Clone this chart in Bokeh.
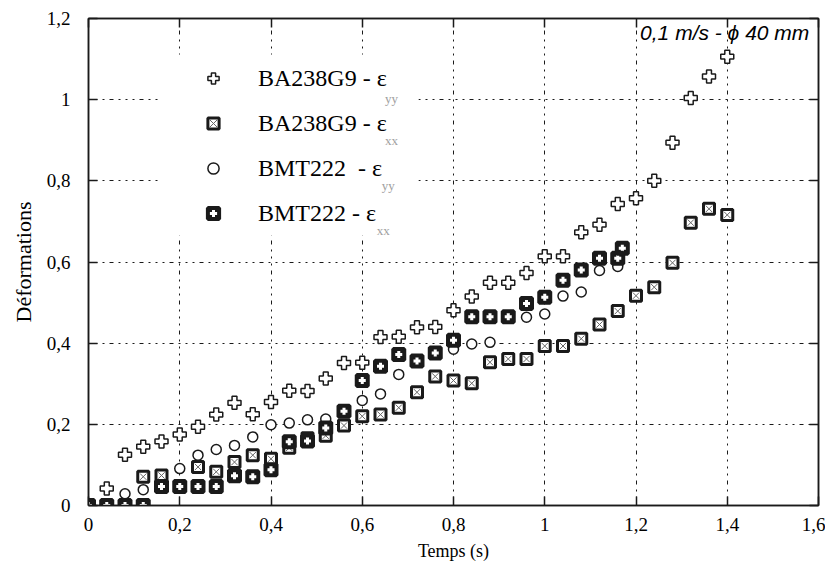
from bokeh.plotting import figure
from bokeh.models import FixedTicker, LinearAxis, Legend, LegendItem, Label, Range1d, BoxAnnotation
from bokeh.embed import file_html
from bokeh.resources import INLINE

# ---------------- data ----------------
# BA238G9 - eps_yy
t_ba_yy = [0.04, 0.08, 0.12, 0.16, 0.20, 0.24, 0.28, 0.32, 0.36, 0.40, 0.44, 0.48,
           0.52, 0.56, 0.60, 0.64, 0.68, 0.72, 0.76, 0.80, 0.84, 0.88, 0.92, 0.96,
           1.00, 1.04, 1.08, 1.12, 1.16, 1.20, 1.24, 1.28, 1.32, 1.36, 1.40]
v_ba_yy = [0.042, 0.125, 0.145, 0.158, 0.175, 0.194, 0.224, 0.253, 0.225, 0.255, 0.283, 0.282,
           0.313, 0.351, 0.352, 0.415, 0.416, 0.439, 0.440, 0.481, 0.515, 0.549, 0.549, 0.573,
           0.614, 0.614, 0.673, 0.692, 0.743, 0.757, 0.800, 0.894, 1.004, 1.057, 1.106]

# BA238G9 - eps_xx
t_ba_xx = [0.00, 0.04, 0.08, 0.12, 0.16, 0.24, 0.28, 0.32, 0.36, 0.40, 0.44, 0.48,
           0.52, 0.56, 0.60, 0.64, 0.68, 0.72, 0.76, 0.80, 0.84, 0.88, 0.92, 0.96,
           1.00, 1.04, 1.08, 1.12, 1.16, 1.20, 1.24, 1.28, 1.32, 1.36, 1.40]
v_ba_xx = [0.000, 0.000, 0.000, 0.071, 0.074, 0.095, 0.083, 0.107, 0.124, 0.115, 0.142, 0.166,
           0.172, 0.197, 0.220, 0.224, 0.241, 0.279, 0.318, 0.308, 0.301, 0.353, 0.361, 0.361,
           0.393, 0.393, 0.411, 0.446, 0.479, 0.517, 0.538, 0.598, 0.697, 0.731, 0.716]

# BMT222 - eps_yy
t_bmt_yy = [0.08, 0.12, 0.20, 0.24, 0.28, 0.32, 0.36, 0.40, 0.44, 0.48, 0.52, 0.60,
            0.64, 0.68, 0.80, 0.84, 0.88, 0.96, 1.00, 1.04, 1.08, 1.12, 1.16]
v_bmt_yy = [0.029, 0.039, 0.091, 0.124, 0.138, 0.148, 0.169, 0.199, 0.203, 0.211, 0.213, 0.259,
            0.275, 0.323, 0.385, 0.398, 0.402, 0.464, 0.472, 0.516, 0.526, 0.579, 0.589]

# BMT222 - eps_xx
t_bmt_xx = [0.00, 0.04, 0.08, 0.12, 0.16, 0.20, 0.24, 0.28, 0.32, 0.36, 0.40, 0.44,
            0.48, 0.52, 0.56, 0.60, 0.64, 0.68, 0.72, 0.76, 0.80, 0.84, 0.88, 0.92,
            0.96, 1.00, 1.04, 1.08, 1.12, 1.16, 1.17]
v_bmt_xx = [0.000, 0.000, 0.000, 0.000, 0.047, 0.047, 0.047, 0.047, 0.073, 0.071, 0.088, 0.157,
            0.159, 0.191, 0.232, 0.308, 0.343, 0.372, 0.356, 0.376, 0.407, 0.465, 0.465, 0.465,
            0.498, 0.513, 0.555, 0.580, 0.609, 0.609, 0.634]

x_ticks = [0, 0.2, 0.4, 0.6, 0.8, 1.0, 1.2, 1.4, 1.6]
x_tick_labels = ["0", "0,2", "0,4", "0,6", "0,8", "1", "1,2", "1,4", "1,6"]
y_ticks = [0, 0.2, 0.4, 0.6, 0.8, 1.0, 1.2]
y_tick_labels = ["0", "0,2", "0,4", "0,6", "0,8", "1", "1,2"]

series_labels = ["BA238G9 - ε", "BA238G9 - ε", "BMT222\u00a0 - ε", "BMT222 - ε"]
series_subscripts = ["yy", "xx", "yy", "xx"]
note_text = "0,1 m/s - ϕ 40 mm"

# ---------------- styling ----------------
SERIF = "Liberation Serif"
INK = "#1a1a1a"

p = figure(width=825, height=565, output_backend="svg", toolbar_location=None,
           x_range=Range1d(0, 1.6), y_range=Range1d(0, 1.2),
           min_border_left=88, min_border_right=7, min_border_top=18, min_border_bottom=60,
           background_fill_color="white", border_fill_color="white")
p.outline_line_color = INK
p.outline_line_width = 1.5

# grid
for g in (p.xgrid, p.ygrid):
    g.grid_line_color = INK
    g.grid_line_width = 1
    g.grid_line_dash = "2 5 2 5 2 5 4 5"
p.xgrid.ticker = FixedTicker(ticks=x_ticks)
p.ygrid.ticker = FixedTicker(ticks=y_ticks)

def style_axis(ax, ticks, labels, show_labels=True):
    ax.ticker = FixedTicker(ticks=ticks)
    ax.major_tick_in = 9
    ax.major_tick_out = 0
    ax.minor_tick_line_color = None
    ax.major_tick_line_color = INK
    ax.major_tick_line_width = 1.5
    ax.axis_line_color = INK
    ax.axis_line_width = 1.5
    ax.major_label_text_font = SERIF
    ax.major_label_text_color = "black"
    if show_labels:
        ax.major_label_overrides = dict(zip(ticks, labels))
        ax.major_label_text_font_size = "19px"
    else:
        ax.major_label_overrides = {t: "" for t in ticks}
        ax.major_label_text_font_size = "1px"
        ax.major_label_standoff = 0

xa = p.xaxis[0]
ya = p.yaxis[0]
style_axis(xa, x_ticks, x_tick_labels)
style_axis(ya, y_ticks, y_tick_labels)
xa.major_label_standoff = 12
ya.major_label_standoff = 18
xa.axis_label = "Temps (s)"
ya.axis_label = "Déformations"
for ax in (xa, ya):
    ax.axis_label_text_font = SERIF
    ax.axis_label_text_font_style = "normal"
    ax.axis_label_text_color = "black"
xa.axis_label_text_font_size = "18px"
ya.axis_label_text_font_size = "22px"
xa.axis_label_standoff = 7
ya.axis_label_standoff = 8

top_ax = LinearAxis()
right_ax = LinearAxis()
style_axis(top_ax, x_ticks, x_tick_labels, show_labels=False)
style_axis(right_ax, y_ticks, y_tick_labels, show_labels=False)
p.add_layout(top_ax, "above")
p.add_layout(right_ax, "right")

# white patch behind the legend (hides the grid there, as in the original)
p.add_layout(BoxAnnotation(left=0.158, right=0.723, bottom=0.665, top=1.111,
                           fill_color="white", fill_alpha=1.0, line_color=None,
                           level="glyph"))

# ---------------- marks ----------------
# BA238G9 eps_yy : outlined plus
r1 = p.scatter(t_ba_yy, v_ba_yy, marker="plus", size=13, fill_color="white",
               line_color=INK, line_width=1.5)

# BA238G9 eps_xx : framed square with an x
r2a = p.scatter(t_ba_xx, v_ba_xx, marker="square", size=11, fill_color="white",
                line_color=INK, line_width=3)
r2b = p.scatter(t_ba_xx, v_ba_xx, marker="x", size=9, line_color="#666666", line_width=1)

# BMT222 eps_yy : small open circle
r3 = p.scatter(t_bmt_yy, v_bmt_yy, marker="circle", size=10, fill_color="white",
               line_color=INK, line_width=1.5)

# BMT222 eps_xx : black square with white plus
r4a = p.scatter(t_bmt_xx, v_bmt_xx, marker="square", size=11, fill_color=INK,
                line_color=INK, line_width=1)
r4b = p.scatter(t_bmt_xx, v_bmt_xx, marker="cross", size=11, line_color="white", line_width=3)
r4c = p.scatter(t_bmt_xx, v_bmt_xx, marker="square", size=11, fill_color=None,
                line_color=INK, line_width=4)

legend = Legend(items=[
    LegendItem(label=series_labels[0], renderers=[r1]),
    LegendItem(label=series_labels[1], renderers=[r2a, r2b]),
    LegendItem(label=series_labels[2], renderers=[r3]),
    LegendItem(label=series_labels[3], renderers=[r4a, r4b, r4c]),
], location=(82, 278), orientation="vertical")
legend.background_fill_alpha = 0.0
legend.border_line_color = None
legend.padding = 9
legend.margin = 0
legend.spacing = 17
legend.glyph_width = 86
legend.glyph_height = 28
legend.label_height = 28
legend.label_width = 150
legend.label_standoff = 2
legend.label_text_font = SERIF
legend.label_text_font_size = "24px"
legend.label_text_color = "black"
p.add_layout(legend, "center")

# subscripts of the legend labels
sub_x = [0.664, 0.664, 0.657, 0.646]
sub_y = [1.003, 0.899, 0.789, 0.678]
for lbl, sx, sy in zip(series_subscripts, sub_x, sub_y):
    p.add_layout(Label(x=sx, y=sy, text=lbl, level="overlay",
                       text_font=SERIF, text_font_size="13px", text_color="#a0a0a0",
                       text_align="center", text_baseline="middle"))

# condition note, top right
p.add_layout(Label(x=1.209, y=1.165, text=note_text, level="overlay",
                   text_font="Liberation Sans", text_font_style="italic",
                   text_font_size="21px", text_color="black",
                   text_align="left", text_baseline="middle"))

open("out.html", "w").write(file_html(p, INLINE))
